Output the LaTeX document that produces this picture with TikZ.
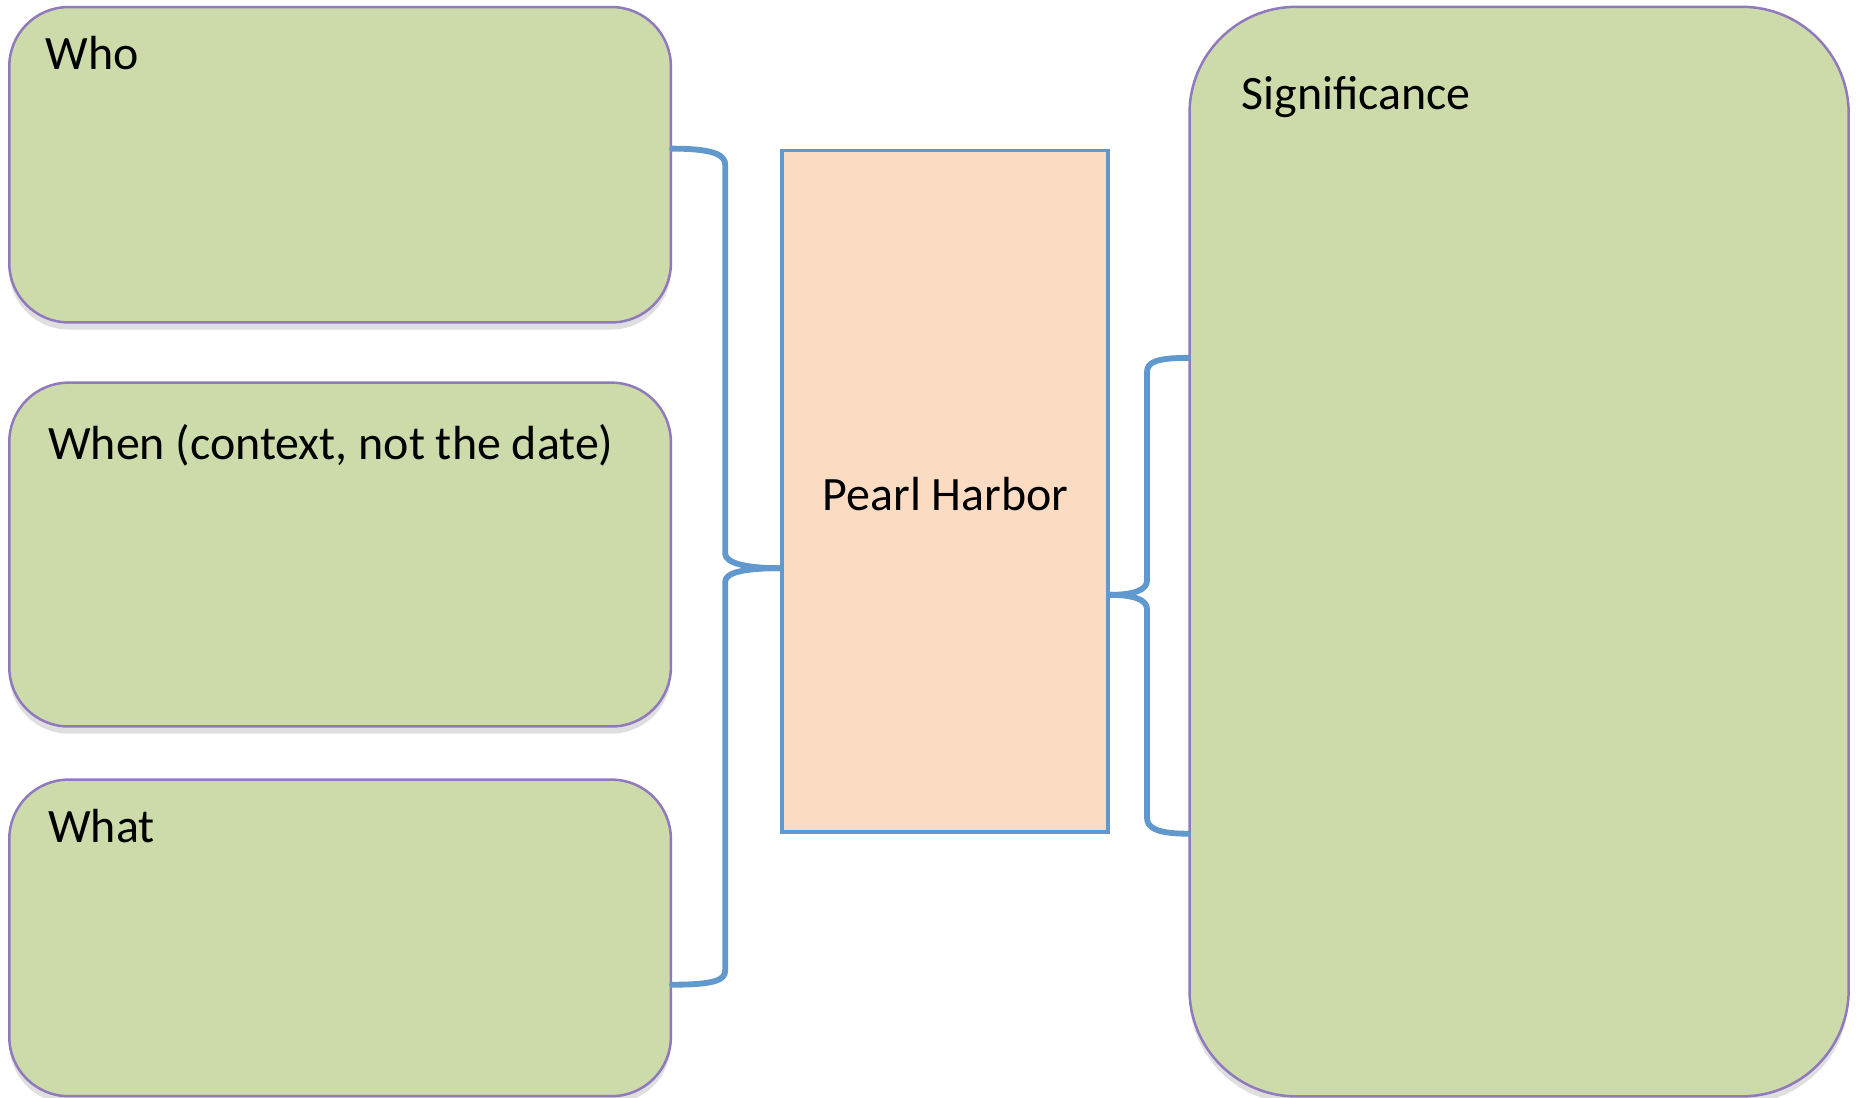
\documentclass[tikz,border=0pt]{standalone}
\usepackage{fontspec}
\setmainfont{Carlito}
\usepackage{xcolor}
\usetikzlibrary{positioning,calc,shadows}

\definecolor{boxgreen}{HTML}{CDDBAB}
\definecolor{boxpurple}{HTML}{9079BD}
\definecolor{peach}{HTML}{FBDBC1}
\definecolor{braceblue}{HTML}{6198CD}

\begin{document}
\begin{tikzpicture}[
    x=0.01cm, y=-0.01cm,
    box/.style={rectangle, rounded corners=0.5cm, draw=boxpurple, fill=boxgreen, line width=0.6pt,
        minimum width=5.58cm, drop shadow={shadow xshift=0pt, shadow yshift=-0.06cm, opacity=0.25}},
    bigbox/.style={box, rounded corners=0.9cm, minimum width=5.56cm, minimum height=9.19cm},
    topic/.style={rectangle, draw=braceblue, fill=peach, line width=0.8pt,
        minimum width=2.75cm, minimum height=5.75cm},
    title/.style={anchor=base west, inner sep=0pt, font=\fontsize{11.5}{14}\selectfont}
    ,brace/.style={draw=braceblue, line width=1.4pt, line cap=round, line join=round}
]
    \useasboundingbox (0,0) rectangle (1568,926.6);

    \node[box, minimum height=2.66cm] (who) at (287,139) {};
    \node[box, minimum height=2.90cm] (when) at (287,468) {};
    \node[box, minimum height=2.67cm] (what) at (287,791.5) {};
    \node[topic] (pearl) at (797.5,414.5) {};
    \node[bigbox] (sig) at (1282,465.5) {};

    \node[title] (whoT) at (38,59) {Who};
    \node[title] (whenT) at (40,388) {When (context, not the date)};
    \node[title] (whatT) at (40,711) {What};
    \node[title] (sigT) at (1047,92) {Significance};
    \node[title, anchor=base] (pearlT) at (798,431) {Pearl Harbor};

    % left brace: who / when / what -> pearl harbor
    \coordinate (lt) at (who.east |- pearl.north);
    \coordinate (lb) at ($(what.east)+(0,39.5)$);
    \coordinate (lm) at ($(pearl.west)+(0,65)$);
    \draw[brace] (lt) .. controls +(36,0) and +(0,-8) .. (612,139) -- (612,467)
        .. controls +(0,8) and +(-30,0) .. (lm);
    \draw[brace] (lm) .. controls +(-30,0) and +(0,-8) .. (612,491) -- (612,819)
        .. controls +(0,8) and +(36,0) .. (lb);

    % right brace: pearl harbor -> significance
    \coordinate (rt) at ($(sig.west)+(0,-163.5)$);
    \coordinate (rb) at (sig.west |- pearl.south);
    \coordinate (rm) at ($(pearl.east)+(0,87.5)$);
    \draw[brace] (rt) .. controls +(-28,0) and +(0,-8) .. (968,314) -- (968,490)
        .. controls +(0,8) and +(20,0) .. (rm);
    \draw[brace] (rm) .. controls +(20,0) and +(0,-8) .. (968,514) -- (968,690)
        .. controls +(0,8) and +(-28,0) .. (rb);
\end{tikzpicture}
\end{document}
